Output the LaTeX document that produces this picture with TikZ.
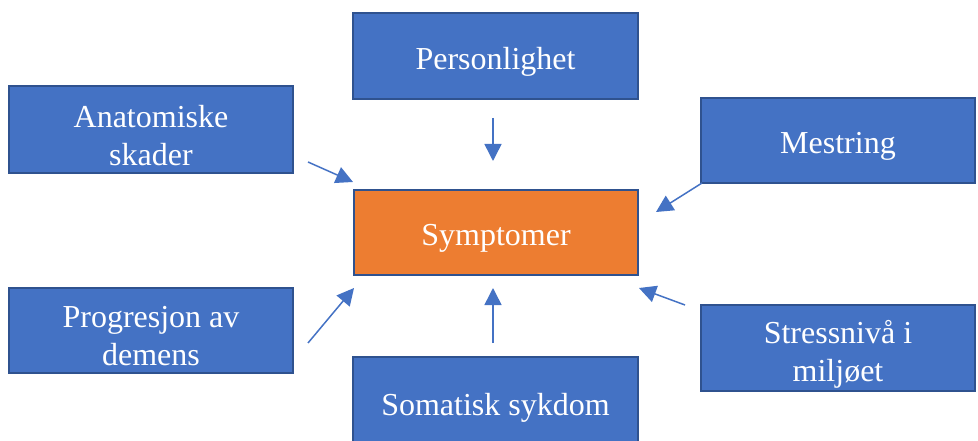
\documentclass[tikz,border=0pt]{standalone}
\usepackage{fontspec}
\setmainfont{Liberation Serif}
\usetikzlibrary{arrows.meta}
\definecolor{boxblue}{HTML}{4472C4}
\definecolor{boxedge}{HTML}{2F528F}
\definecolor{boxorange}{HTML}{ED7D31}
\newcommand{\lowtext}[1]{\raisebox{-6pt}[\height][\depth]{#1}}
\tikzset{
  factor/.style={rectangle,draw=boxedge,line width=1.5pt,fill=boxblue,text=white,
    align=center,inner sep=0pt,font=\fontsize{32}{38}\selectfont},
  center/.style={factor,fill=boxorange},
  arr/.style={-{Triangle[length=17pt,width=17pt]},color=boxblue,line width=1.5pt}
}

\begin{document}
\begin{tikzpicture}[x=1pt,y=-1pt]
            \useasboundingbox (0,0) rectangle (978,441);
            % boxes
            \node[factor,minimum width=285pt,minimum height=86pt](pers) at (495.5,56){\lowtext{Personlighet}};
            \node[factor,minimum width=284pt,minimum height=87pt](anat) at (151,129.5){\lowtext{Anatomiske}\\\lowtext{skader}};
            \node[factor,minimum width=274pt,minimum height=85pt](mest) at (838,140.5){\lowtext{Mestring}};
            \node[center,minimum width=284pt,minimum height=85pt](symp) at (496,232.5){\lowtext{Symptomer}};
            \node[factor,minimum width=284pt,minimum height=85pt](prog) at (151,330.5){\lowtext{Progresjon av}\\\lowtext{demens}};
            \node[factor,minimum width=274pt,minimum height=86pt](stress) at (838,348){\lowtext{Stressnivå i}\\\lowtext{miljøet}};
            \node[factor,minimum width=285pt,minimum height=90pt](soma) at (495.5,402){\lowtext{Somatisk sykdom}};
            % arrow ends
            \coordinate (pers-out) at (493,118);
            \coordinate (pers-in) at (493,161);
            \coordinate (anat-out) at (308,162);
            \coordinate (anat-in) at (353,182);
            \coordinate (mest-out) at (702,183);
            \coordinate (mest-in) at (656,212);
            \coordinate (prog-out) at (308,343);
            \coordinate (prog-in) at (354,288);
            \coordinate (soma-out) at (493,343);
            \coordinate (soma-in) at (493,288);
            \coordinate (stress-out) at (685,305);
            \coordinate (stress-in) at (639,288);
            \draw[arr] (pers-out) -- (pers-in);
            \draw[arr] (anat-out) -- (anat-in);
            \draw[arr] (mest-out) -- (mest-in);
            \draw[arr] (prog-out) -- (prog-in);
            \draw[arr] (soma-out) -- (soma-in);
            \draw[arr] (stress-out) -- (stress-in);
        \end{tikzpicture}
\end{document}
